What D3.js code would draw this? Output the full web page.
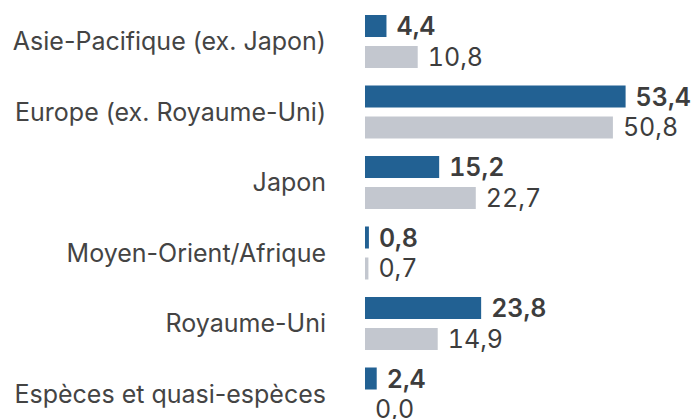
<!DOCTYPE html>
<html lang="fr">
<head>
<meta charset="utf-8">
<script src="https://d3js.org/d3.v7.min.js"></script>
<style>
  body { margin: 0; background: #fff; }
  text { font-family: Inter, "Noto Sans", sans-serif; }
</style>
</head>
<body>
<div id="chart"></div>
<script>
const categories = [
  "Asie-Pacifique (ex. Japon)",
  "Europe (ex. Royaume-Uni)",
  "Japon",
  "Moyen-Orient/Afrique",
  "Royaume-Uni",
  "Espèces et quasi-espèces"
];
const seriesNames = ["Portefeuille", "Indice"];
const portefeuille = [4.4, 53.4, 15.2, 0.8, 23.8, 2.4];
const indice = [10.8, 50.8, 22.7, 0.7, 14.9, 0.0];

const width = 698, height = 419;
const colors = ["#226193", "#c3c7cf"];
const fmt = d => d.toFixed(1).replace(".", ",");

const svg = d3.select("#chart").append("svg")
  .attr("width", width)
  .attr("height", height);

const x = d3.scaleLinear().domain([0, 60]).range([365, 365 + 60 * 4.88]);

const y = d3.scaleBand()
  .domain(categories)
  .range([15, 15 + 6 * 70.5]);

const ySub = d3.scaleBand()
  .domain(seriesNames)
  .range([0, 53])
  .paddingInner(0.29);

const rows = categories.map((c, i) => ({
  cat: c,
  vals: [
    { s: seriesNames[0], v: portefeuille[i] },
    { s: seriesNames[1], v: indice[i] }
  ]
}));

// category labels
svg.append("g").selectAll("text")
  .data(rows)
  .join("text")
  .attr("x", 326)
  .attr("y", d => y(d.cat) + 53 / 2)
  .attr("dy", "0.35em")
  .attr("text-anchor", "end")
  .attr("fill", "#444")
  .style("font-size", "25px")
  .text(d => d.cat);

const g = svg.append("g").selectAll("g")
  .data(rows)
  .join("g")
  .attr("transform", d => "translate(0," + y(d.cat) + ")");

g.selectAll("rect")
  .data(d => d.vals)
  .join("rect")
  .attr("x", x(0))
  .attr("y", d => ySub(d.s))
  .attr("width", d => x(d.v) - x(0))
  .attr("height", ySub.bandwidth())
  .attr("fill", (d, i) => colors[i]);

g.selectAll("text.val")
  .data(d => d.vals)
  .join("text")
  .attr("class", "val")
  .attr("x", d => x(d.v) + 10)
  .attr("y", d => ySub(d.s) + ySub.bandwidth() / 2)
  .attr("dy", "0.36em")
  .attr("fill", "#3d3d3d")
  .style("font-size", "25px")
  .style("font-variant-numeric", "tabular-nums")
  .style("font-weight", (d, i) => i === 0 ? 600 : 400)
  .text(d => fmt(d.v));
</script>
</body>
</html>
